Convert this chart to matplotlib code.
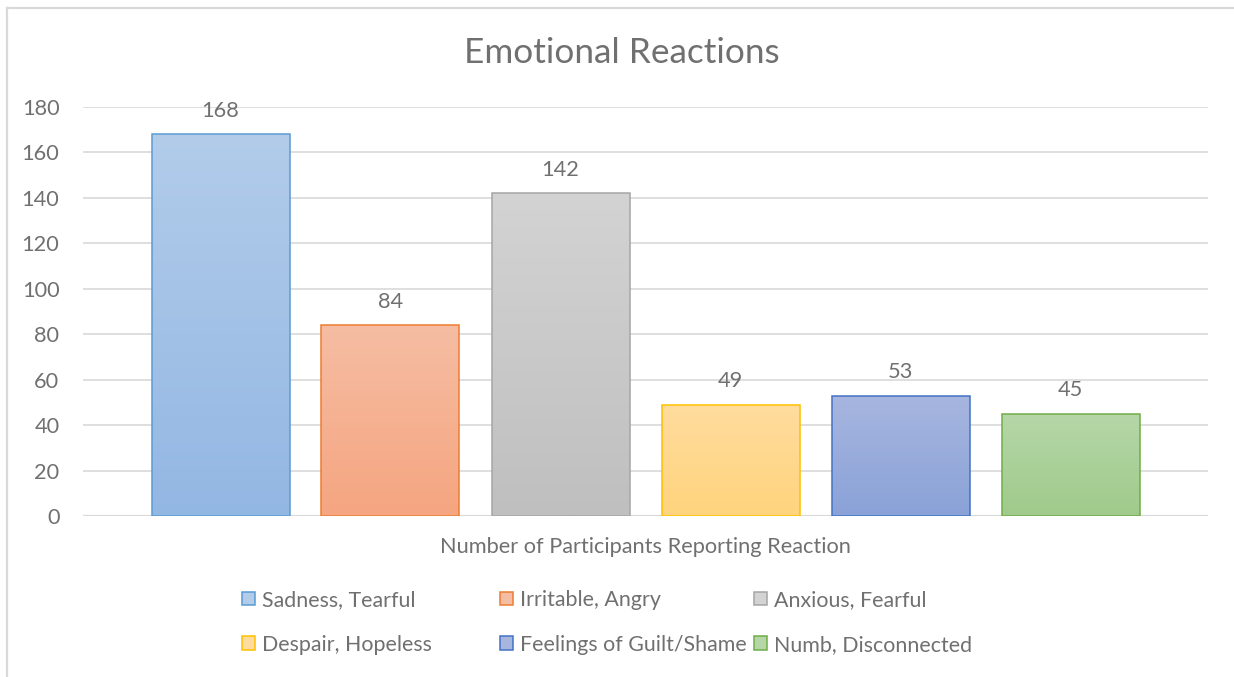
import numpy as np
import matplotlib
matplotlib.use("Agg")
import matplotlib.pyplot as plt
from matplotlib.patches import Rectangle
from matplotlib.colors import LinearSegmentedColormap
from matplotlib.lines import Line2D

# ---- data ----
title = "Emotional Reactions"
category_label = "Number of Participants Reporting Reaction"
series_names = ["Sadness, Tearful", "Irritable, Angry", "Anxious, Fearful",
                "Despair, Hopeless", "Feelings of Guilt/Shame", "Numb, Disconnected"]
values = [168, 84, 142, 49, 53, 45]
yticks = [0, 20, 40, 60, 80, 100, 120, 140, 160, 180]

# ---- styles ----
edge_colors = ["#5B9BD5", "#ED7D31", "#A5A5A5", "#FFC000", "#4472C4", "#70AD47"]
top_colors = ["#B2CCEA", "#F5BDA3", "#D3D3D3", "#FFDC9E", "#A7B6DF", "#B5D7A8"]
bot_colors = ["#93B7E3", "#F6A580", "#BFBFBF", "#FFD47E", "#8AA2D8", "#A0CA8B"]
text_color = "#707070"
grid_color = "#D9D9D9"
FONT = "Lato"
FS = 15.7
LFS = 15.4

W, H = 1234, 677
fig = plt.figure(figsize=(W / 100, H / 100), dpi=100)
fig.patch.set_facecolor("white")

# chart border (top and left visible)
fig.add_artist(Line2D([7 / W, 1.0], [1 - 7.5 / H, 1 - 7.5 / H], color=grid_color, lw=1.6))
fig.add_artist(Line2D([7 / W, 7 / W], [0, 1 - 7.5 / H], color=grid_color, lw=1.6))

left, right, top, bottom = 83, 1208, 107, 516
ax = fig.add_axes([left / W, 1 - bottom / H, (right - left) / W, (bottom - top) / H])
for s in ax.spines.values():
    s.set_visible(False)
ax.set_yticks(yticks)
ax.set_xticks([])
ax.tick_params(axis="y", length=0, pad=17, labelsize=FS, labelcolor=text_color)
for lab in ax.get_yticklabels():
    lab.set_fontfamily(FONT)
ax.grid(axis="y", color=grid_color, lw=1.2)
ax.set_axisbelow(True)

n = len(values)
bar_w = 138 / 1125
step = 170 / 1125
handles = []
for i, v in enumerate(values):
    xc = (i - (n - 1) / 2) * step
    b = ax.bar(xc, v, width=bar_w, facecolor="none", edgecolor=edge_colors[i],
               linewidth=1.1, zorder=3)[0]
    cmap = LinearSegmentedColormap.from_list(f"g{i}", [bot_colors[i], top_colors[i]])
    grad = np.linspace(0, 1, 256).reshape(-1, 1)
    im = ax.imshow(grad, cmap=cmap, origin="lower", aspect="auto",
                   extent=(xc - bar_w / 2, xc + bar_w / 2, 0, v), zorder=2)
    im.set_clip_path(b)
    ax.annotate(str(v), (xc, v), xytext=(0, 17), textcoords="offset points",
                ha="center", va="center", fontsize=FS, color=text_color, family=FONT)
    handles.append(Rectangle((0, 0), 1, 1, facecolor=top_colors[i],
                             edgecolor=edge_colors[i], linewidth=1.1))
ax.set_xlim(-0.5, 0.5)
ax.set_ylim(0, 180)
ax.axhline(0, color=grid_color, lw=1.6, zorder=1)

fig.text(622 / W, 1 - 53 / H, title,
         ha="center", va="center", fontsize=25.3, color=text_color, family=FONT)
fig.text(645 / W, 1 - 547 / H, category_label,
         ha="center", va="center", fontsize=FS, color=text_color, family=FONT)

# legend: three columns, each a separate legend
col_x = [242, 500, 754]
for c in range(3):
    hs = [handles[c], handles[c + 3]]
    ls = [series_names[c], series_names[c + 3]]
    leg = fig.legend(hs, ls, loc="upper left",
                     bbox_to_anchor=(col_x[c] / W, 1 - 590 / H),
                     frameon=False, borderpad=0, borderaxespad=0,
                     handlelength=0.62, handleheight=0.62, handletextpad=0.3,
                     labelspacing=1.15, prop={"family": FONT, "size": LFS})
    for t in leg.get_texts():
        t.set_color(text_color)

fig.savefig("out.png", dpi=100, facecolor="white")
